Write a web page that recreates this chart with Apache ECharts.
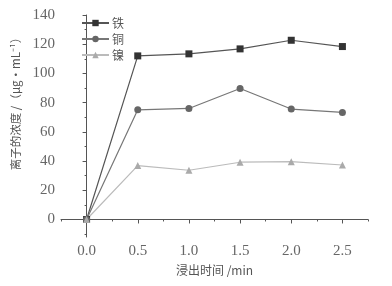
<!DOCTYPE html>
<html><head><meta charset="utf-8">
<script src="https://cdn.jsdelivr.net/npm/echarts@6/dist/echarts.min.js"></script>
<style>html,body{margin:0;padding:0;background:#fff}#c{width:392px;height:286px}</style>
</head><body><div id="c"></div>
<script>
const times = [0.0, 0.5, 1.0, 1.5, 2.0, 2.5];
const seriesNames = ['铁', '铜', '镍'];
const fe = [0, 112, 113.4, 116.8, 122.7, 118.4];
const cu = [0, 75.1, 76, 89.7, 75.6, 73.3];
const ni = [0, 36.9, 33.7, 39.2, 39.6, 37.3];
const xTicks = [0, 0.5, 1.0, 1.5, 2.0, 2.5];
const yTicks = [0, 20, 40, 60, 80, 100, 120, 140];
const xTitle = '浸出时间 /min';
const yTitle = '离子的浓度 /（μg·mL⁻¹）';

const numFont = 'Liberation Serif';
const cjk = '"Noto Sans CJK SC", "Liberation Serif"';
const axisColor = '#555';
const chart = echarts.init(document.getElementById('c'));
const mk = (name, vals, symbol, color, lineColor, size) => ({
  name, type: 'line', data: times.map((t, i) => [t, vals[i]]),
  symbol, symbolSize: size, showSymbol: true,
  itemStyle: {color}, lineStyle: {color: lineColor, width: 1.2},
  emphasis: {disabled: true}, animation: false
});
chart.setOption({
  backgroundColor: '#fff',
  animation: false,
  grid: {left: 61, right: 24, top: 15, bottom: 49, outerBoundsMode: 'none', containLabel: false},
  legend: {
    orient: 'vertical', left: 76, top: 12, itemWidth: 27, itemHeight: 8, itemGap: 4,
    data: seriesNames,
    textStyle: {fontFamily: cjk, fontSize: 12, color: '#555', padding: [0, 0, 0, -2]}
  },
  xAxis: [{
    type: 'value', min: -0.25, max: 2.75,
    name: xTitle, nameLocation: 'middle', nameGap: 27,
    nameTextStyle: {fontFamily: cjk, fontSize: 12, color: '#555'},
    axisLine: {lineStyle: {color: axisColor, width: 1}},
    axisTick: {customValues: xTicks, length: 4, lineStyle: {color: axisColor}},
    axisLabel: {customValues: xTicks, formatter: v => v.toFixed(1), fontFamily: numFont, fontSize: 15, color: '#666', margin: 7},
    splitLine: {show: false}
  }, {
    type: 'value', min: -0.25, max: 2.75, interval: 0.25, position: 'bottom',
    axisLine: {show: false},
    axisTick: {length: 2, lineStyle: {color: axisColor}},
    axisLabel: {show: false}, splitLine: {show: false}
  }],
  yAxis: [{
    type: 'value', min: -12, max: 140,
    name: yTitle, nameLocation: 'middle', nameGap: 37, nameRotate: 90,
    nameTextStyle: {fontFamily: cjk, fontSize: 11.5, color: '#555', padding: [0, 0, 0, 50]},
    axisLine: {show: true, lineStyle: {color: axisColor, width: 1}},
    axisTick: {show: true, customValues: yTicks, length: 4, lineStyle: {color: axisColor}},
    axisLabel: {customValues: yTicks, fontFamily: numFont, fontSize: 15, color: '#666', margin: 6},
    splitLine: {show: false}
  }, {
    type: 'value', min: -12, max: 140, position: 'left',
    axisLine: {show: false},
    axisTick: {show: true, customValues: [-10, 10, 30, 50, 70, 90, 110, 130], length: 2, lineStyle: {color: axisColor}},
    axisLabel: {show: false}, splitLine: {show: false}
  }],
  series: [
    mk(seriesNames[0], fe, 'rect', '#333', '#555', 7),
    mk(seriesNames[1], cu, 'circle', '#666', '#777', 7),
    mk(seriesNames[2], ni, 'triangle', '#aaa', '#bbb', 7)
  ]
});
</script></body></html>
